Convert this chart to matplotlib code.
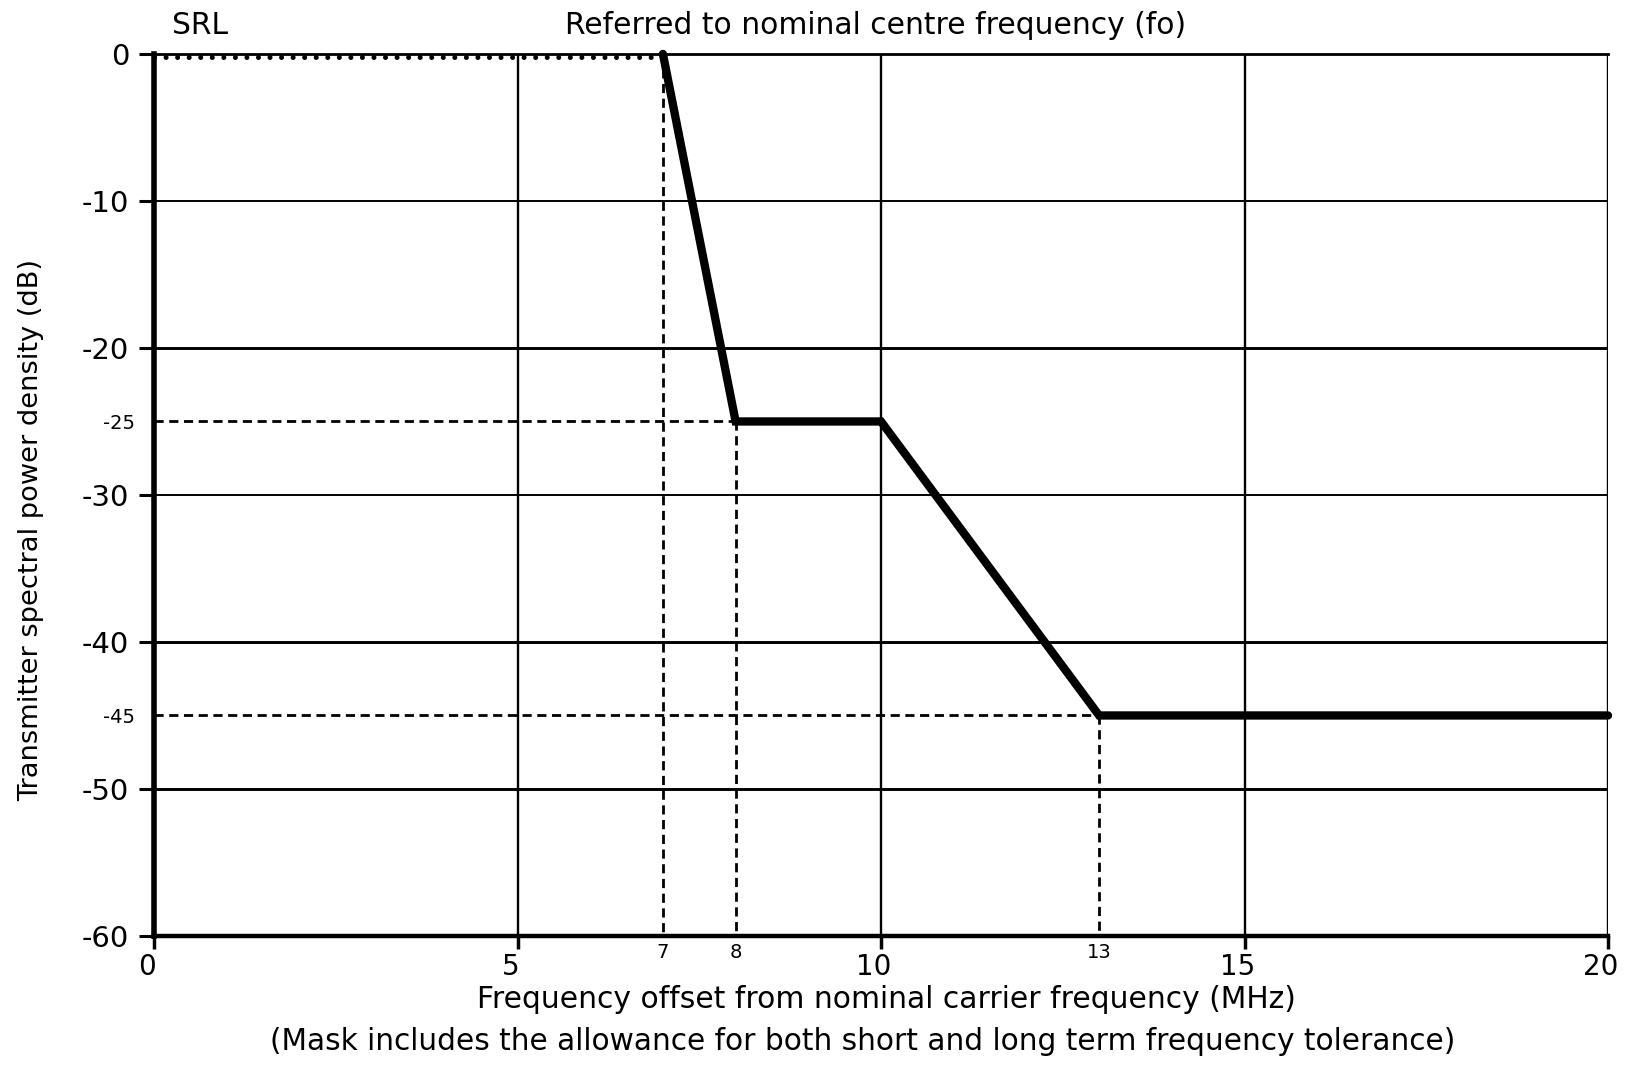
import matplotlib
matplotlib.use("Agg")
import matplotlib.pyplot as plt
from matplotlib.transforms import ScaledTranslation

# Data
mask_freq = [7, 8, 10, 13, 20]
mask_db = [0, -25, -25, -45, -45]
major_x = [0, 5, 10, 15, 20]
minor_x = [7, 8, 13]
major_y = [0, -10, -20, -30, -40, -50, -60]
minor_y = [-25, -45]
grid_x = [5, 10, 15, 20]
grid_y_thin = [-10, -30]
grid_y_thick = [-20, -40, -50]

plt.rcParams['font.family'] = ['DejaVu Sans']

fig = plt.figure(figsize=(16.3, 10.9), dpi=100)
ax = fig.add_axes([0.0945, 0.1413, 0.892, 0.8092])
ax.set_xlim(0, 20)
ax.set_ylim(-60, 0)

for x in grid_x:
    ax.axvline(x, color='black', lw=1.7, zorder=1)
for y in grid_y_thin:
    ax.axhline(y, color='black', lw=1.4, zorder=1)
for y in grid_y_thick:
    ax.axhline(y, color='black', lw=2.1, zorder=1)

# reference construction lines
ax.plot([0, mask_freq[0]], [mask_db[0] - 0.2, mask_db[0] - 0.2], color='black', lw=3.6,
        dashes=(0.01, 2.3), dash_capstyle='round', zorder=6, clip_on=False)
dash = dict(color='black', lw=2.0, dashes=(3.3, 2.0), zorder=2)
ax.plot([mask_freq[0], mask_freq[0]], [mask_db[0], -60], **dash)
ax.plot([mask_freq[1], mask_freq[1]], [mask_db[1], -60], **dash)
ax.plot([mask_freq[3], mask_freq[3]], [mask_db[3], -60], **dash)
ax.plot([0, mask_freq[1]], [mask_db[1], mask_db[1]], **dash)
ax.plot([0, mask_freq[3]], [mask_db[3], mask_db[3]], **dash)

ax.plot(mask_freq, mask_db, color='black', lw=6, solid_joinstyle='miter',
        solid_capstyle='round', zorder=7, clip_on=False)

ax.spines['left'].set_linewidth(4.0)
ax.spines['bottom'].set_linewidth(3.2)
ax.spines['top'].set_linewidth(2.0)
ax.spines['right'].set_visible(False)
for s in ax.spines.values():
    s.set_zorder(5)

ax.set_xticks(major_x)
ax.set_xticklabels([str(v) for v in major_x], fontsize=20)
ax.set_xticks(minor_x, minor=True)
ax.set_xticklabels([str(v) for v in minor_x], minor=True, fontsize=14)
ax.set_yticks(major_y)
ax.set_yticklabels([str(v) for v in major_y], fontsize=21)
ax.set_yticks(minor_y, minor=True)
ax.set_yticklabels([str(v) for v in minor_y], minor=True, fontsize=14)

ax.tick_params(axis='x', which='major', length=9, width=2.5, pad=3, direction='out')
ax.tick_params(axis='x', which='minor', length=0, pad=5)
ax.tick_params(axis='y', which='major', length=11, width=2.2, pad=7, direction='out')
ax.tick_params(axis='y', which='minor', length=0, pad=14)

shift = ScaledTranslation(-7 / 100, 0, fig.dpi_scale_trans)
for lab in ax.get_xticklabels():
    lab.set_transform(lab.get_transform() + shift)

fig.text(31 / 1630, 1 - 530 / 1090, 'Transmitter spectral power density (dB)',
         rotation=90, ha='center', va='center', fontsize=19.6)
fig.text(886 / 1630, 1 - 1008 / 1090, 'Frequency offset from nominal carrier frequency (MHz)',
         ha='center', va='baseline', fontsize=21.4)
fig.text(863 / 1630, 1 - 1042 / 1090, '(Mask includes the allowance for both short and long term frequency tolerance)',
         ha='center', va='center', fontsize=21.3)
fig.text(200 / 1630, 1 - 26 / 1090, 'SRL', ha='center', va='center', fontsize=21.4)
fig.text(876 / 1630, 1 - 26 / 1090, 'Referred to nominal centre frequency (fo)',
         ha='center', va='center', fontsize=21.4)

fig.savefig('out.png', dpi=100)
